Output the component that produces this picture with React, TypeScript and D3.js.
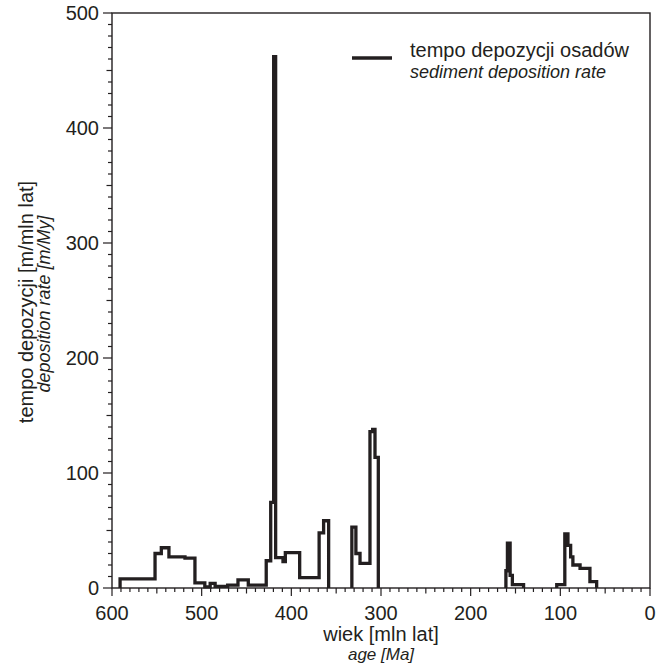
import React from "react";
import * as d3 from "d3";

const width = 666;
const height = 666;
const margin = { top: 13, right: 16, bottom: 78, left: 112 };

// step boundaries (age, Ma) and the rate that holds from that age until the next one
const ages = [
  591, 552, 545, 536.5, 518.6, 507.5, 496.5, 490.5, 485, 471, 459.5, 448, 428, 423, 419.7, 417.5,
  409.3, 406.7, 390.7, 369, 364, 358.4, 332.5, 328, 323.4, 312.3, 309.3, 306.7, 303, 160.7, 159,
  156, 153.5, 141, 104, 95, 91.5, 88.5, 86, 78, 67, 59.5,
];
const rates = [
  8, 30, 35, 27, 26, 4.5, 1, 4, 1.5, 2.5, 7, 2.5, 23.7, 74.5, 462, 26.4,
  23, 30.7, 9, 48, 58.5, 0, 53, 30, 21.4, 136, 138, 113.6, 0, 15, 39,
  11, 3, 0, 3, 47, 37, 27, 20, 17, 5.5, 0,
];

const xTicks = [600, 500, 400, 300, 200, 100, 0];
const yTicks = [0, 100, 200, 300, 400, 500];

const ink = "#231f20";
const font = "'Liberation Sans', Arial, Helvetica, sans-serif";

// cut the record into runs between zero-rate gaps, each run rising from and falling back to 0
const runs = () => {
  const out: [number, number][][] = [];
  let cur: [number, number][] | null = null;
  ages.forEach((a, i) => {
    const r = rates[i];
    if (r > 0) {
      if (!cur) cur = [[a, 0]];
      cur.push([a, r]);
    } else if (cur) {
      cur.push([a, 0]);
      out.push(cur);
      cur = null;
    }
  });
  return out;
};

const App = () => {
  const x = d3
    .scaleLinear()
    .domain([600, 0])
    .range([margin.left, width - margin.right]);
  const y = d3
    .scaleLinear()
    .domain([0, 500])
    .range([height - margin.bottom, margin.top]);

  const line = d3
    .line<[number, number]>()
    .x((d) => x(d[0]))
    .y((d) => y(d[1]))
    .curve(d3.curveStepAfter);

  const minorX = d3.range(0, 601, 10);
  const minorY = d3.range(0, 501, 10);
  const [x0, x1] = x.range();
  const [y0, y1] = y.range();

  return (
    <svg width={width} height={height} style={{ position: "absolute", left: 0, top: 0 }} fontFamily={font}>
      <rect width={width} height={height} fill="#fff" />

      {/* frame */}
      <rect x={x0} y={y1} width={x1 - x0} height={y0 - y1} fill="none" stroke={ink} strokeWidth={1.4} />

      {/* x ticks */}
      {minorX.map((t) => {
        const len = t % 100 === 0 ? 8 : t % 50 === 0 ? 5.5 : 4;
        return <line key={`x${t}`} x1={x(t)} x2={x(t)} y1={y0} y2={y0 + len} stroke={ink} strokeWidth={1.2} />;
      })}
      {xTicks.map((t) => (
        <text key={`xl${t}`} x={x(t)} y={y0 + 32} textAnchor="middle" fontSize={20} fill={ink}>
          {t}
        </text>
      ))}

      {/* y ticks */}
      {minorY.map((t) => {
        const len = t % 100 === 0 ? 9 : t % 50 === 0 ? 5.5 : 4;
        return <line key={`y${t}`} x1={x0 - len} x2={x0} y1={y(t)} y2={y(t)} stroke={ink} strokeWidth={1.2} />;
      })}
      {yTicks.map((t) => (
        <text key={`yl${t}`} x={x0 - 13} y={y(t) + 7} textAnchor="end" fontSize={20} fill={ink}>
          {t}
        </text>
      ))}

      {/* data */}
      {runs().map((run, i) => (
        <path key={i} d={line(run) ?? ""} fill="none" stroke={ink} strokeWidth={3.3} strokeLinejoin="miter" />
      ))}

      {/* axis titles */}
      <text x={(x0 + x1) / 2} y={641} textAnchor="middle" fontSize={20} fill={ink}>
        wiek [mln lat]
      </text>
      <text x={(x0 + x1) / 2} y={660} textAnchor="middle" fontSize={17} fontStyle="italic" fill={ink}>
        age [Ma]
      </text>
      <text transform={`translate(33,302) rotate(-90)`} textAnchor="middle" fontSize={20} fill={ink}>
        tempo depozycji [m/mln lat]
      </text>
      <text transform={`translate(50,304) rotate(-90)`} textAnchor="middle" fontSize={18} fontStyle="italic" fill={ink}>
        deposition rate [m/My]
      </text>

      {/* legend */}
      <line x1={352} x2={392} y1={58} y2={58} stroke={ink} strokeWidth={3.5} />
      <text x={410} y={57} fontSize={20} fill={ink}>
        tempo depozycji osadów
      </text>
      <text x={410} y={78} fontSize={18} fontStyle="italic" fill={ink}>
        sediment deposition rate
      </text>
    </svg>
  );
};

export default App;
